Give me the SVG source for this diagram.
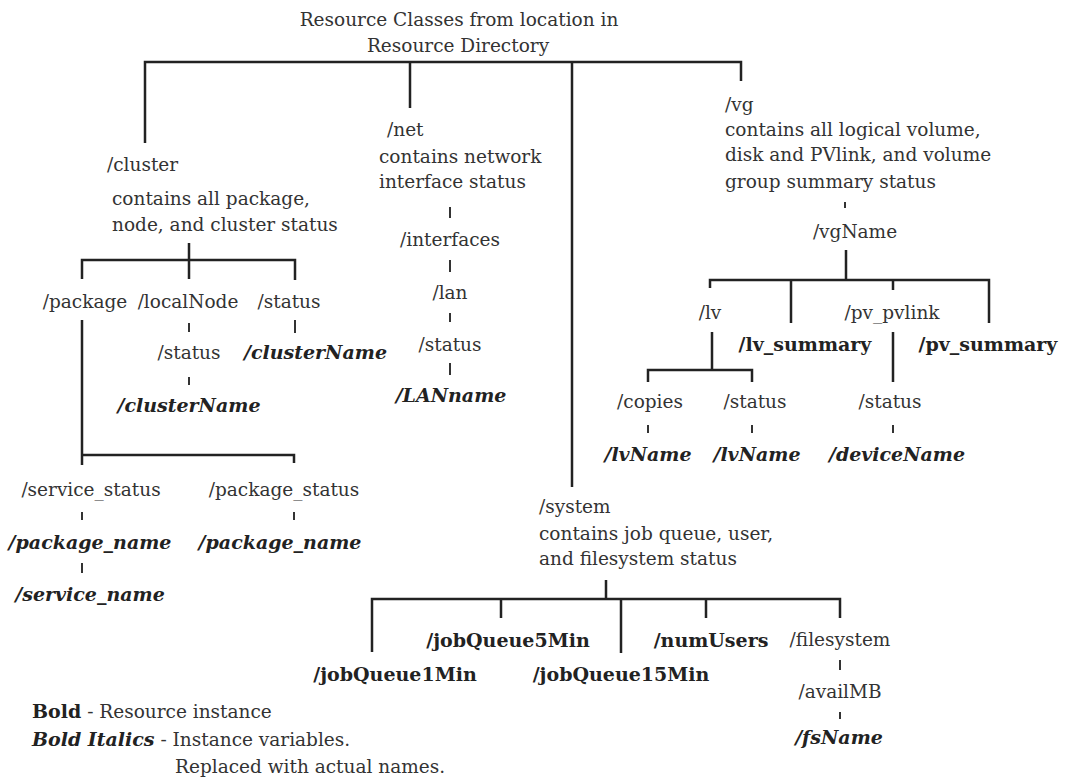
<svg xmlns="http://www.w3.org/2000/svg" width="1065" height="778" viewBox="0 0 1065 778">
<style>
text{font-family:"DejaVu Serif","Liberation Serif",serif;font-size:18.5px;fill:#333}
.m{text-anchor:middle}
.b{font-weight:bold;fill:#222;font-size:19px}
.bi{font-weight:bold;font-style:italic;fill:#222;font-size:19px}
.ln{stroke:#222;stroke-width:2.5;fill:none}
.tk{stroke:#333;stroke-width:2;fill:none}
</style>
<rect width="1065" height="778" fill="#fff"/>
<g id="connectors">
<path class="ln" d="M145,143V62H741V81M410,62V108M572,62V487"/>
<path class="ln" d="M189,243V279M82,279V260H295V280"/>
<path class="tk" d="M189,323V332M189,377V385M295,320V333"/>
<path class="ln" d="M82,320V465M82,455H294V463"/>
<path class="tk" d="M82,512V520M82,563V573M294,512V520"/>
<path class="tk" d="M450,207V218M450,260V272M450,313V322M450,363V375"/>
<path class="tk" d="M845,202V208"/>
<path class="ln" d="M846,250V280M710,288V280H989V323M791,280V323M893,280V290"/>
<path class="ln" d="M712,332V370M648,382V370H752V382M893,332V382"/>
<path class="tk" d="M648,425V433M752,425V433M893,425V433"/>
<path class="ln" d="M606,580V599M372,652V599H840V618M501,599V618M621,599V653M706,599V618"/>
<path class="tk" d="M840,660V670M840,712V719"/>
</g>
<g id="title"><text class="m" x="459" y="26">Resource Classes from location in</text><text class="m" x="458" y="52">Resource Directory</text></g>
<g id="cluster"><text x="107" y="171">/cluster</text><text x="112" y="205">contains all package,</text><text x="112" y="231">node, and cluster status</text></g>
<g id="package"><text class="m" x="85" y="308">/package</text></g>
<g id="localNode"><text class="m" x="188" y="308">/localNode</text></g>
<g id="cluster-status"><text class="m" x="289" y="308">/status</text></g>
<g id="localNode-status"><text class="m" x="189" y="359">/status</text></g>
<g id="clusterName1"><text class="m bi" x="189" y="412">/clusterName</text></g>
<g id="clusterName2"><text class="bi" x="244" y="359">/clusterName</text></g>
<g id="service_status"><text class="m" x="91" y="496">/service_status</text></g>
<g id="package_status"><text class="m" x="284" y="496">/package_status</text></g>
<g id="package_name1"><text class="m bi" x="90" y="549">/package_name</text></g>
<g id="package_name2"><text class="m bi" x="280" y="549">/package_name</text></g>
<g id="service_name"><text class="m bi" x="90" y="601">/service_name</text></g>
<g id="net"><text x="387" y="136">/net</text><text x="379" y="163">contains network</text><text x="379" y="188">interface status</text></g>
<g id="interfaces"><text class="m" x="450" y="246">/interfaces</text></g>
<g id="lan"><text class="m" x="450" y="299">/lan</text></g>
<g id="net-status"><text class="m" x="450" y="351">/status</text></g>
<g id="LANname"><text class="m bi" x="451" y="402">/LANname</text></g>
<g id="vg"><text x="725" y="111">/vg</text><text x="725" y="136">contains all logical volume,</text><text x="725" y="161">disk and PVlink, and volume</text><text x="725" y="188">group summary status</text></g>
<g id="vgName"><text class="m" x="855" y="238">/vgName</text></g>
<g id="lv"><text class="m" x="710" y="319">/lv</text></g>
<g id="pv_pvlink"><text class="m" x="892" y="319">/pv_pvlink</text></g>
<g id="lv_summary"><text class="m b" x="805" y="351">/lv_summary</text></g>
<g id="pv_summary"><text class="m b" x="988" y="351">/pv_summary</text></g>
<g id="copies"><text class="m" x="650" y="408">/copies</text></g>
<g id="lv-status"><text class="m" x="755" y="408">/status</text></g>
<g id="pv-status"><text class="m" x="890" y="408">/status</text></g>
<g id="lvName1"><text class="m bi" x="648" y="461">/lvName</text></g>
<g id="lvName2"><text class="m bi" x="757" y="461">/lvName</text></g>
<g id="deviceName"><text class="m bi" x="897" y="461">/deviceName</text></g>
<g id="system"><text x="539" y="513">/system</text><text x="539" y="540">contains job queue, user,</text><text x="539" y="565">and filesystem status</text></g>
<g id="jobQueue1Min"><text class="m b" x="395" y="681">/jobQueue1Min</text></g>
<g id="jobQueue5Min"><text class="m b" x="508" y="647">/jobQueue5Min</text></g>
<g id="jobQueue15Min"><text class="m b" x="621" y="681">/jobQueue15Min</text></g>
<g id="numUsers"><text class="m b" x="711" y="647">/numUsers</text></g>
<g id="filesystem"><text class="m" x="840" y="646">/filesystem</text></g>
<g id="availMB"><text class="m" x="840" y="698">/availMB</text></g>
<g id="fsName"><text class="m bi" x="839" y="744">/fsName</text></g>
<g id="legend"><text x="32" y="718"><tspan class="b">Bold</tspan> - Resource instance</text><text x="32" y="746"><tspan class="bi">Bold Italics</tspan> - Instance variables.</text><text x="175" y="773">Replaced with actual names.</text></g>
</svg>
